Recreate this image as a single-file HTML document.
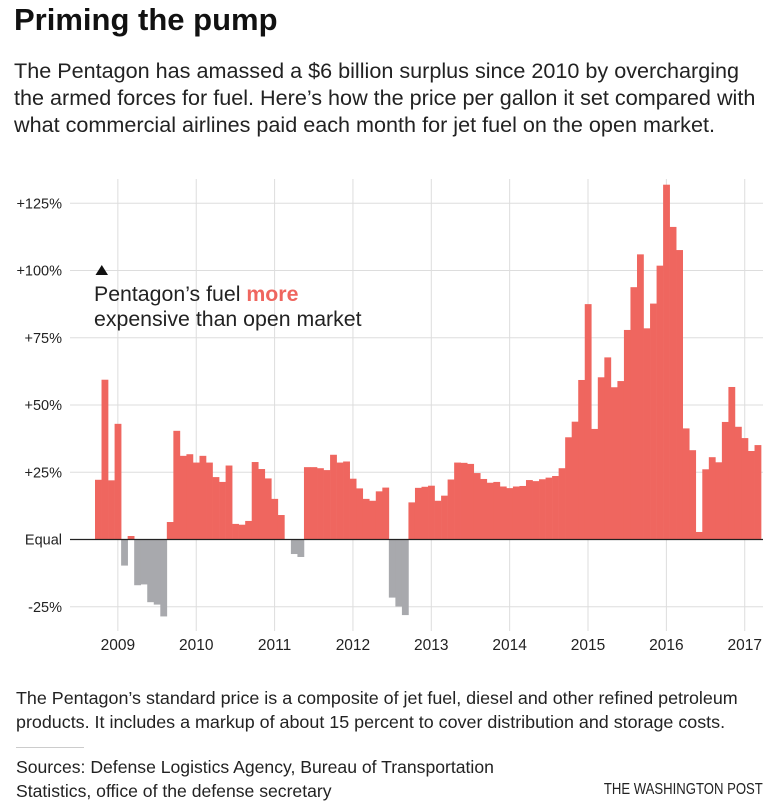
<!DOCTYPE html>
<html><head><meta charset="utf-8">
<style>
body{margin:0;background:#fff;width:773px;height:803px;overflow:hidden;font-family:"Liberation Sans",sans-serif;color:#222;position:relative}
.t{position:absolute;left:14px;top:2px;font-size:31px;font-weight:bold;color:#111;margin:0}
.s{position:absolute;left:14px;top:57px;font-size:21.6px;line-height:27px;width:760px;margin:0;color:#222}
.n{position:absolute;left:16px;top:686px;font-size:17.9px;line-height:24px;color:#222;margin:0;white-space:nowrap}
.rule{position:absolute;left:16px;top:747px;width:68px;height:1px;background:#ccc}
.src{position:absolute;left:16px;top:755px;font-size:17.6px;line-height:24px;color:#222;margin:0;white-space:nowrap}
.wp{position:absolute;right:10px;top:781px;font-size:16px;color:#222;transform:scaleX(0.82);transform-origin:right center;white-space:nowrap}
svg{position:absolute;left:0;top:0}
</style></head>
<body>
<h1 class="t">Priming the pump</h1>
<p class="s">The Pentagon has amassed a $6 billion surplus since 2010 by overcharging<br>the armed forces for fuel. Here’s how the price per gallon it set compared with<br>what commercial airlines paid each month for jet fuel on the open market.</p>
<svg id="chart" width="773" height="803"></svg>
<p class="n">The Pentagon’s standard price is a composite of jet fuel, diesel and other refined petroleum<br>products. It includes a markup of about 15 percent to cover distribution and storage costs.</p>
<div class="rule"></div>
<p class="src">Sources: Defense Logistics Agency, Bureau of Transportation<br>Statistics, office of the defense secretary</p>
<div class="wp">THE WASHINGTON POST</div>
<script>
const values = [22.2,59.4,22,43,-9.7,1.3,-17,-16.7,-23.3,-24.2,-28.6,6.5,40.4,31.1,31.7,28.6,31.1,28.6,23.2,21.4,27.5,5.8,5.5,6.9,28.8,26.2,22.7,15.1,9.1,0,-5.4,-6.5,
26.9,26.9,26.5,25.8,31.5,28.6,29,22.6,19,15.1,14.4,17.9,19.3,-21.6,-24.9,-28.1,13.8,19.2,19.6,20,14.4,16.3,22.3,28.6,28.5,28.1,24.7,22.5,21.1,21.4,19.7,19.1,19.7,19.9,
22.1,21.7,22.4,23,23.6,26.5,38,43.8,59.3,87.5,41.1,60.3,67.7,56.6,58.9,77.9,93.8,106,78.5,87.7,101.8,131.9,116.2,107.6,41.3,33.2,2.8,26.1,30.6,28.7,43.7,56.7,41.9,37.7,32.9,35.1];
const yTicks = [-25,0,25,50,75,100,125];
const yTickLabels = ["-25%","Equal","+25%","+50%","+75%","+100%","+125%"];
const years = [2009,2010,2011,2012,2013,2014,2015,2016,2017];
const firstMonthOffset = 3.5;
const svg = document.getElementById('chart');
const NS = 'http://www.w3.org/2000/svg';
const x0 = 95, bw = 6.53;
const xScale = i => x0 + i*bw;
const yScale = v => 539.5 - v*2.69;
function mk(tag, attrs){const e=document.createElementNS(NS,tag);for(const k in attrs)e.setAttribute(k,attrs[k]);svg.appendChild(e);return e;}
yTicks.forEach((t,i)=>{
  const y=yScale(t);
  if(t!==0){const l=mk('line',{x1:70,x2:763,y1:y,y2:y,stroke:'#ddd','stroke-width':1});
  
  }
  const tx=mk('text',{x:62,y:y+5,'text-anchor':'end','font-size':14.5,fill:'#222'});
  tx.textContent=yTickLabels[i];
  
  
});
years.forEach(yr=>{
  const x=xScale((yr-2009)*12+firstMonthOffset);
  const l=mk('line',{x1:x,x2:x,y1:179,y2:631,stroke:'#ddd','stroke-width':1});
  
  
  const tx=mk('text',{x:x,y:650,'text-anchor':'middle','font-size':15.5,fill:'#222'});
  tx.textContent=yr;
  
  
});
values.forEach((v,i)=>{
  if(v===0)return;
  const y=Math.min(yScale(v),yScale(0)), h=Math.abs(yScale(v)-yScale(0));
  const r=mk('rect',{x:xScale(i),y:y,width:bw+0.3,height:h,fill:v>0?'#ef665f':'#a8a9ad'});
  
  
});
const zl=mk('line',{x1:70,x2:763,y1:yScale(0),y2:yScale(0),stroke:'#222','stroke-width':1.3});


const tri=mk('polygon',{points:'95.5,275 108,275 101.8,265',fill:'#111'});


const a1=mk('text',{x:94,y:301,'font-size':21.3,fill:'#222'});
a1.innerHTML='Pentagon’s fuel <tspan font-weight="bold" fill="#ef665f">more</tspan>';


const a2=mk('text',{x:94,y:326,'font-size':21.3,fill:'#222'});
a2.textContent='expensive than open market';


</script>
</body></html>
